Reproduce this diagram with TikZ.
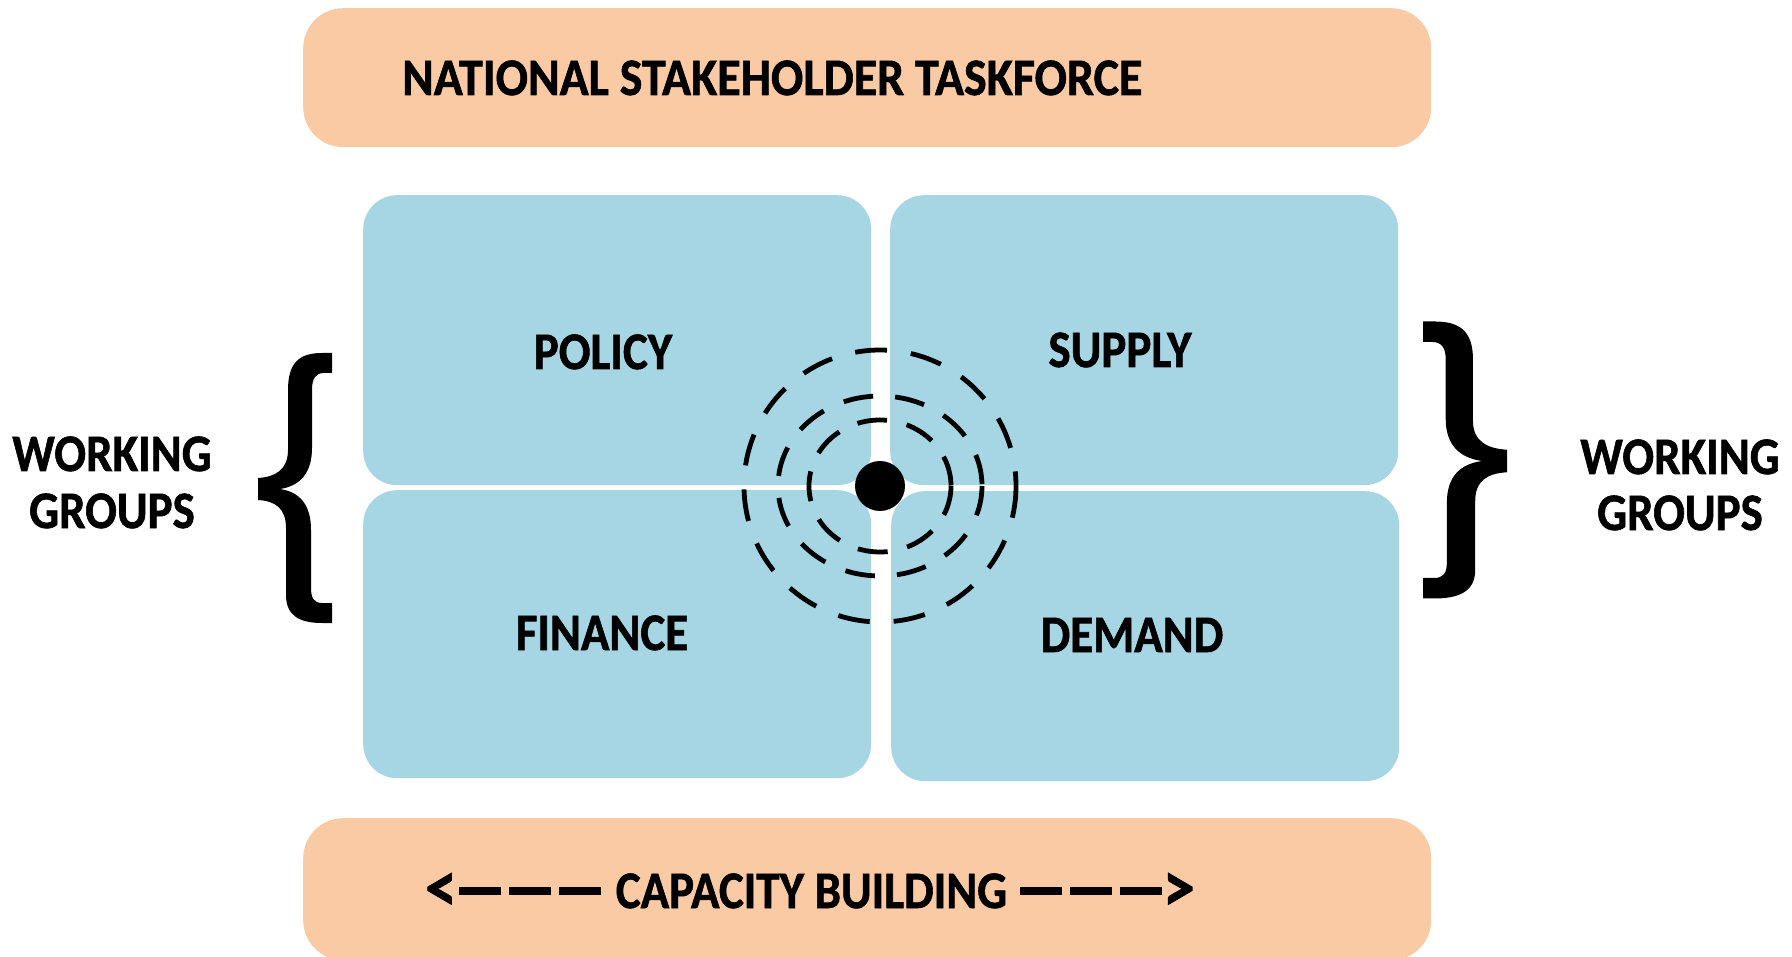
\documentclass[tikz,border=0pt]{standalone}
\usepackage{fontspec}
\setmainfont{Carlito}[BoldFeatures={FakeBold=1.2}]
\usepackage{graphicx}
\definecolor{peach}{HTML}{F9CAA4}
\definecolor{skyblue}{HTML}{A6D6E3}
% caps set a little taller than the font's own proportions
\newcommand\tallcaps[1]{\scalebox{1}[1.12]{#1}}
% one long dash of the capacity arrow
\newcommand\adash{\rule[12pt]{42pt}{7pt}}
\newcommand\dashrun{\adash\kern8pt\adash\kern8pt\adash}
% enlarged chevrons at both ends of the capacity arrow
\newcommand\bigchev[1]{\raisebox{-3pt}{\scalebox{1.35}{#1}}}

\begin{document}
\begin{tikzpicture}[x=1pt,y=-1pt,
  band/.style={fill=peach, rounded corners=40pt, inner sep=0pt, anchor=north west},
  panel/.style={fill=skyblue, rounded corners=34pt, inner sep=0pt, anchor=north west},
  lbl/.style={inner sep=0pt, anchor=base, font=\fontsize{47}{56}\selectfont\bfseries},
  ring/.style={draw=black, line width=4.8pt, dash pattern=on 32pt off 24pt},
  curlybrace/.pic={
    \fill[black] (74,-136) -- (64,-136)
      .. controls (42,-136) and (30,-127) .. (30,-99) -- (30,-39)
      .. controls (30,-19) and (17,-12) .. (0,-11) -- (0,11)
      .. controls (17,12) and (28,19) .. (28,39) -- (28,106)
      .. controls (28,127) and (42,134) .. (64,134) -- (74,134) -- (74,114) -- (64,114)
      .. controls (56,114) and (53,109) .. (53,99) -- (53,41)
      .. controls (53,16) and (42,3) .. (22,0)
      .. controls (42,-3) and (54,-16) .. (54,-41) -- (54,-99)
      .. controls (54,-111) and (58,-116) .. (66,-116) -- (74,-116) -- cycle;
  },
]
\useasboundingbox (0,0) rectangle (1792,957);

% outer bands
\node[band, minimum width=1128pt, minimum height=139pt] (taskforce) at (303,8) {};
\node[band, minimum width=1128pt, minimum height=142pt] (capacity) at (303,818) {};

% four working-group panels
\node[panel, minimum width=508pt, minimum height=290pt] (policy) at (363,195) {};
\node[panel, minimum width=508pt, minimum height=290pt] (supply) at (890,195) {};
\node[panel, minimum width=508pt, minimum height=288pt] (finance) at (363,490) {};
\node[panel, minimum width=508pt, minimum height=290pt] (demand) at (891,491) {};

% concentric dashed rings and the hub
\draw[ring] (880,486) circle [radius=136];
\draw[ring, dash pattern=on 30pt off 22pt] (880,486) ellipse [x radius=102, y radius=90];
\draw[ring, dash pattern=on 30pt off 20pt] (880,486) ellipse [x radius=71, y radius=66];
\node[circle, fill=black, minimum size=50pt, inner sep=0pt] (hub) at (880,486) {};

% braces
\pic (lbrace) at (258,489) {curlybrace};
\pic[xscale=-1.135, yscale=1.026] (rbrace) at (1507,461) {curlybrace};

% texts
\node[lbl, anchor=base west] (taskforcetext) at (402,95) {\scalebox{1.02}[1.12]{NATIONAL STAKEHOLDER TASKFORCE}};
\node[lbl] (policytext) at (603,369) {\tallcaps{POLICY}};
\node[lbl] (supplytext) at (1120,367) {\tallcaps{SUPPLY}};
\node[lbl] (financetext) at (602,650) {\tallcaps{FINANCE}};
\node[lbl] (demandtext) at (1132,652) {\tallcaps{DEMAND}};
\node[lbl] (lwork) at (112,471) {\tallcaps{WORKING}};
\node[lbl] (lgroups) at (112,528) {\tallcaps{GROUPS}};
\node[lbl] (rwork) at (1680,474) {\tallcaps{WORKING}};
\node[lbl] (rgroups) at (1680,530) {\tallcaps{GROUPS}};
\node[lbl, anchor=base west] (capacitytext) at (425,908)
  {\tallcaps{\bigchev{<}\kern2pt\dashrun\kern15pt CAPACITY BUILDING\kern13pt\dashrun\kern1pt\bigchev{>}}};
\end{tikzpicture}
\end{document}
